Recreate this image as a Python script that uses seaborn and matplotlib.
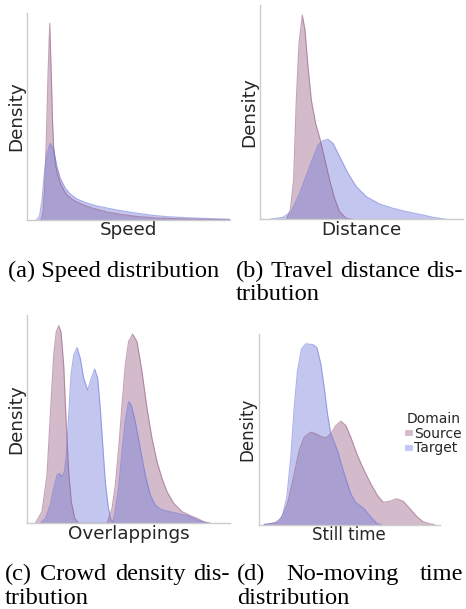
import numpy as np
import pandas as pd
import matplotlib
matplotlib.use("Agg")
import matplotlib.pyplot as plt
import seaborn as sns
from matplotlib.patches import Patch

# ---------------- data (arbitrary units) ----------------
speed_src_x = [14, 16, 17.5, 19.3, 21, 22.7, 24.3, 25.5, 26.7, 28.5, 31, 33.3, 36.7, 40, 45, 50, 58, 66.7, 80, 95, 110, 130, 160, 203]
speed_src_y = [0, 8, 30, 80, 145, 196.7, 145, 100, 72, 55, 44, 37, 30, 25, 21, 18, 14.5, 11.5, 8, 5.5, 3.5, 2, 1, 0.3]
speed_tgt_x = [9, 11, 12.7, 15, 17.3, 20, 23.3, 26.7, 30, 33.3, 38.3, 43.3, 50, 60, 70, 80, 90, 106.6, 123.3, 140, 173.3, 203]
speed_tgt_y = [0, 1.5, 5, 20, 46.7, 66.7, 76.7, 70, 53.3, 41.7, 31.7, 26, 21, 17, 14, 12, 10, 7.3, 5, 3.3, 1.7, 0.7]

dist_src_x = [26, 30, 33.3, 36, 38.7, 42, 44.7, 47.7, 51, 55.3, 60, 64.3, 69.3, 74.3, 79.3, 86, 92.7]
dist_src_y = [0, 9.3, 39.3, 119.3, 176, 204.3, 189.3, 152.7, 119.3, 96, 79.3, 61, 39.3, 21, 7.7, 1, 0]
dist_tgt_x = [9.3, 22.7, 31, 39.3, 49.3, 57.7, 62.7, 67.7, 72.7, 79.3, 87.7, 96, 106, 119.3, 132.7, 146, 162.7, 172.7, 186]
dist_tgt_y = [0, 2, 7.7, 26, 52.7, 74.3, 78.7, 80, 76, 62.7, 46, 32.7, 22.7, 15.3, 11, 7.7, 4.3, 2, 0]

ovl_src_x = [8.3, 15, 20, 23.3, 26.7, 29.3, 31.7, 34, 36.7, 39.3, 41.7, 44.3, 47.7, 51.7, 80, 85, 88.3, 91.7, 95, 98.3,
             101.6, 105.6, 110, 115, 120, 125, 130, 135, 140, 146.7, 155, 163.3, 170, 176.7, 183.3]
ovl_src_y = [0, 11.7, 48.3, 108.3, 168.3, 191.7, 197.7, 191.7, 158.3, 98.3, 51.7, 21.7, 5, 0, 0, 15, 38.3, 75, 118.3, 158.3,
             181.7, 189.3, 181.7, 151.7, 115, 85, 61.7, 45, 31.7, 20, 11.7, 7.7, 5, 1.7, 0]
ovl_tgt_x = [13.3, 18.3, 23.3, 26.7, 30, 32.3, 35, 37.3, 39.3, 41.7, 44, 46.7, 50, 53.3, 56.7, 60.7, 64.3, 67.7, 70.7, 73.3,
             76, 78.3, 81, 83.3, 86, 88.3, 91.7, 95, 98.3, 101.6, 104.3, 108.3, 113.3, 118.3, 123.3, 128.3, 133.3, 140,
             150, 160, 170, 176.7, 183.3]
ovl_tgt_y = [0, 5, 18.3, 35, 48.3, 50, 46.7, 51.7, 68.3, 108.3, 148.3, 168.3, 175.7, 165, 145, 133.3, 145, 154.3, 145, 115,
             75, 41.7, 18.3, 5, 1, 13, 36, 72, 103, 121.7, 118.3, 101.7, 75, 48.3, 28.3, 18.3, 14.3, 12.3,
             10, 7.7, 3.3, 1, 0]

still_src_x = [5.7, 15.7, 22.3, 29, 35.7, 40.7, 45.7, 52.3, 57.3, 62.3, 67.3, 72.3, 77.3, 82.3, 87.3, 92.3, 99, 105.7,
               112.3, 119, 124.7, 131.3, 138, 144.7, 151.3, 158, 164.7, 171.3, 176]
still_src_y = [0, 1.3, 5.7, 20.7, 50.7, 74, 87.3, 92.3, 90.7, 88, 86.7, 90.7, 99, 103.3, 99, 87.3, 69, 54,
               40.7, 29, 22.3, 23.3, 25.7, 23.3, 16, 8.3, 2.7, 0.7, 0]
still_tgt_x = [5.7, 19, 24, 28.3, 32.3, 35.7, 39, 43, 47.3, 54, 58.3, 62.3, 65.7, 69, 72.3, 79, 85.7, 92.3, 97, 105.7, 114, 119, 123]
still_tgt_y = [0, 2.3, 9, 27.3, 67.3, 117.3, 154, 175.7, 180.7, 180, 177.3, 160.7, 137.3, 110.7, 90.7, 74, 50.7, 30.7, 22.3, 15.7, 5.7, 0.7, 0]

domains = ["Source", "Target"]
x_labels = ["Speed", "Distance", "Overlappings", "Still time"]

# ---------------- style ----------------
sns.set_theme(style="white")
plt.rcParams["font.family"] = ["DejaVu Sans"]

base = {"Source": "#93577d", "Target": "#6b75d9"}
FILL_ALPHA = 0.4

W, H = 466, 609
fig = plt.figure(figsize=(W / 100, H / 100), dpi=100)


def add_ax(left, top, right, bottom):
    return fig.add_axes([left / W, 1 - bottom / H, (right - left) / W, (bottom - top) / H])


def draw(ax, sx, sy, tx, ty, xlabel, xlim, ylim, fs):
    df = pd.concat([
        pd.DataFrame({"x": sx, "density": sy, "Domain": "Source"}),
        pd.DataFrame({"x": tx, "density": ty, "Domain": "Target"}),
    ], ignore_index=True)
    for dom in domains:
        g = df[df["Domain"] == dom]
        ax.fill_between(g["x"], g["density"], color=base[dom], alpha=FILL_ALPHA, lw=0)
    sns.lineplot(data=df, x="x", y="density", hue="Domain", palette=base, estimator=None,
                 sort=False, lw=0.8, alpha=0.55, ax=ax, legend=False)
    ax.set_xlim(*xlim)
    ax.set_ylim(*ylim)
    ax.set_xticks([])
    ax.set_yticks([])
    ax.set_xlabel(xlabel, fontsize=fs, labelpad=1)
    ax.set_ylabel("Density", fontsize=fs, labelpad=1.5)
    for s in ["top", "right"]:
        ax.spines[s].set_visible(False)
    for s in ["left", "bottom"]:
        ax.spines[s].set_color("#cccccc")
        ax.spines[s].set_linewidth(1.0)


ax_a = add_ax(27, 13, 230, 220)
draw(ax_a, speed_src_x, speed_src_y, speed_tgt_x, speed_tgt_y, x_labels[0], (0, 203), (0, 207), 13.2)

ax_b = add_ax(260.3, 5, 463, 219.3)
draw(ax_b, dist_src_x, dist_src_y, dist_tgt_x, dist_tgt_y, x_labels[1], (0, 202.7), (0, 214.3), 13.2)

ax_c = add_ax(27, 315, 230, 523.3)
draw(ax_c, ovl_src_x, ovl_src_y, ovl_tgt_x, ovl_tgt_y, x_labels[2], (0, 203), (0, 208.3), 13.2)

ax_d = add_ax(258.5, 334, 440, 524.5)
draw(ax_d, still_src_x, still_src_y, still_tgt_x, still_tgt_y, x_labels[3], (0, 181.5), (0, 190.5), 12)

handles = [Patch(facecolor=base[d], alpha=FILL_ALPHA, edgecolor=base[d], lw=0.4) for d in domains]
leg = fig.legend(handles, domains, title="Domain", loc="upper left",
                 bbox_to_anchor=(405 / W, 1 - 412 / H), frameon=False,
                 fontsize=10, title_fontsize=10, handlelength=0.5, handleheight=0.2,
                 handletextpad=0.15, labelspacing=0.05, borderpad=0, borderaxespad=0)

# ---------------- captions ----------------
CAP = dict(fontfamily="Liberation Serif", fontsize=17.6, va="baseline", color="black")
renderer = fig.canvas.get_renderer()


def cap(x, y, s, ha="left"):
    return fig.text(x / W, 1 - y / H, s, ha=ha, **CAP)


def justify(x0, x1, y, words):
    texts = [cap(x0, y, w) for w in words]
    widths = [t.get_window_extent(renderer).width for t in texts]
    gap = (x1 - x0 - sum(widths)) / (len(words) - 1)
    x = x0
    for t, w in zip(texts, widths):
        t.set_x(x / W)
        x += w + gap


cap(114, 277, "(a) Speed distribution", ha="center")
justify(236, 463, 277, ["(b)", "Travel", "distance", "dis-"])
cap(236, 300, "tribution")

justify(5, 230, 580, ["(c)", "Crowd", "density", "dis-"])
justify(237, 463, 580, ["(d)", "No-moving", "time"])
cap(5, 604, "tribution")
cap(237, 604, "distribution")

fig.savefig("out.png", dpi=100)
